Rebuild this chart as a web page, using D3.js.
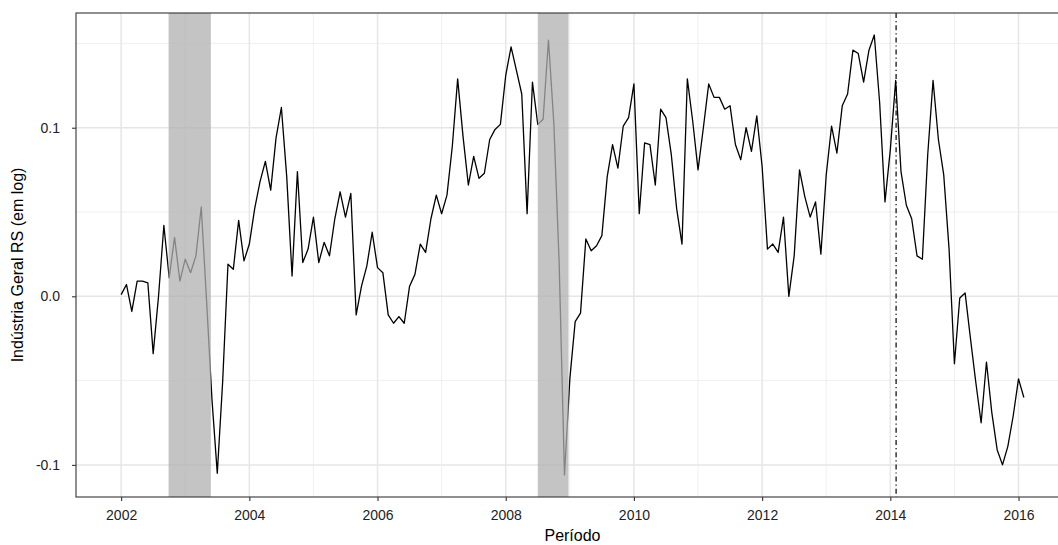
<!DOCTYPE html>
<html>
<head>
<meta charset="utf-8">
<script src="https://cdn.jsdelivr.net/npm/d3@7/dist/d3.min.js"></script>
<style>
  html, body { margin: 0; padding: 0; background: #fff; }
  svg { display: block; font-family: "Liberation Sans", Arial, sans-serif; }
</style>
</head>
<body>
<svg id="chart" width="1058" height="545"></svg>
<script>
// ---- Data (monthly, log index, starting Jan 2002) ----
const startYear = 2002;
const v2002 = [0.001, 0.007, -0.009, 0.009, 0.009, 0.008, -0.034, 0.000, 0.042, 0.011, 0.035, 0.009];
const v2003 = [0.022, 0.014, 0.024, 0.053, -0.003, -0.061, -0.105, -0.051, 0.019, 0.016, 0.045, 0.021];
const v2004 = [0.031, 0.052, 0.068, 0.080, 0.063, 0.094, 0.112, 0.071, 0.012, 0.074, 0.020, 0.028];
const v2005 = [0.047, 0.020, 0.032, 0.024, 0.046, 0.062, 0.047, 0.061, -0.011, 0.006, 0.018, 0.038];
const v2006 = [0.017, 0.014, -0.011, -0.016, -0.012, -0.016, 0.006, 0.013, 0.031, 0.026, 0.046, 0.060];
const v2007 = [0.049, 0.060, 0.089, 0.129, 0.095, 0.066, 0.083, 0.070, 0.073, 0.093, 0.099, 0.102];
const v2008 = [0.131, 0.148, 0.134, 0.120, 0.049, 0.127, 0.102, 0.105, 0.152, 0.103, 0.020, -0.106];
const v2009 = [-0.049, -0.015, -0.010, 0.034, 0.027, 0.030, 0.036, 0.071, 0.090, 0.076, 0.101, 0.106];
const v2010 = [0.126, 0.049, 0.091, 0.090, 0.066, 0.111, 0.106, 0.084, 0.052, 0.031, 0.129, 0.104];
const v2011 = [0.075, 0.100, 0.126, 0.118, 0.118, 0.111, 0.113, 0.090, 0.081, 0.100, 0.086, 0.107];
const v2012 = [0.077, 0.028, 0.031, 0.026, 0.047, 0.000, 0.024, 0.075, 0.059, 0.047, 0.056, 0.025];
const v2013 = [0.072, 0.101, 0.085, 0.113, 0.120, 0.146, 0.144, 0.127, 0.146, 0.155, 0.115, 0.056];
const v2014 = [0.087, 0.128, 0.074, 0.054, 0.046, 0.024, 0.022, 0.084, 0.128, 0.093, 0.072, 0.028];
const v2015 = [-0.040, -0.001, 0.002, -0.025, -0.051, -0.075, -0.039, -0.069, -0.091, -0.100, -0.089, -0.071];
const v2016 = [-0.049, -0.060];

// shaded recession periods (decimal years) and the vertical marker
const recessionStart = [2002.74, 2008.50];
const recessionEnd   = [2003.40, 2008.98];
const markerDate = 2014.09;

const xTicks = [2002, 2004, 2006, 2008, 2010, 2012, 2014, 2016];
const xMinorTicks = [2003, 2005, 2007, 2009, 2011, 2013, 2015];
const yTicks = [-0.1, 0.0, 0.1];
const yTickLabels = ["-0.1", "0.0", "0.1"];
const yMinorTicks = [-0.05, 0.05, 0.15];

const xTitle = "Período";
const yTitle = "Indústria Geral RS (em log)";

// ---- build series ----
const yearly = [v2002, v2003, v2004, v2005, v2006, v2007, v2008, v2009, v2010, v2011, v2012, v2013, v2014, v2015, v2016];
const series = [];
yearly.forEach((arr, yi) => arr.forEach((v, m) => series.push({ t: startYear + yi + m / 12, v })));

// ---- layout ----
const svg = d3.select("#chart");
const L = 76, R = 1069, T = 13, B = 497;

const xExt = d3.extent(series, d => d.t);
const xPad = (xExt[1] - xExt[0]) * 0.05;
const yExt = d3.extent(series, d => d.v);
const yPad = (yExt[1] - yExt[0]) * 0.05;

const x = d3.scaleLinear().domain([xExt[0] - xPad, xExt[1] + xPad]).range([L, R]);
const y = d3.scaleLinear().domain([yExt[0] - yPad, yExt[1] + yPad]).range([B, T]);

// panel background
svg.append("rect").attr("x", L).attr("y", T).attr("width", R - L).attr("height", B - T).attr("fill", "#fff");

const grid = svg.append("g");
// minor grid
grid.selectAll(".xmin").data(xMinorTicks).join("line")
  .attr("x1", d => x(d)).attr("x2", d => x(d)).attr("y1", T).attr("y2", B)
  .attr("stroke", "#ebebeb").attr("stroke-width", 0.8);
grid.selectAll(".ymin").data(yMinorTicks).join("line")
  .attr("x1", L).attr("x2", R).attr("y1", d => y(d)).attr("y2", d => y(d))
  .attr("stroke", "#ebebeb").attr("stroke-width", 0.8);
// major grid
grid.selectAll(".xmaj").data(xTicks).join("line")
  .attr("x1", d => x(d)).attr("x2", d => x(d)).attr("y1", T).attr("y2", B)
  .attr("stroke", "#e6e6e6").attr("stroke-width", 1.5);
grid.selectAll(".ymaj").data(yTicks).join("line")
  .attr("x1", L).attr("x2", R).attr("y1", d => y(d)).attr("y2", d => y(d))
  .attr("stroke", "#e6e6e6").attr("stroke-width", 1.5);

// series line
const line = d3.line().x(d => x(d.t)).y(d => y(d.v));
svg.append("path").datum(series)
  .attr("d", line).attr("fill", "none")
  .attr("stroke", "#000").attr("stroke-width", 1.3).attr("stroke-linejoin", "round");

// recession shading (drawn over the line, semi-transparent)
svg.selectAll(".rec").data(recessionStart).join("rect")
  .attr("x", (d) => x(d))
  .attr("width", (d, i) => x(recessionEnd[i]) - x(d))
  .attr("y", T).attr("height", B - T)
  .attr("fill", "#b0b0b0").attr("fill-opacity", 0.75);

// vertical dot-dash marker
svg.append("line")
  .attr("x1", x(markerDate)).attr("x2", x(markerDate))
  .attr("y1", T).attr("y2", B)
  .attr("stroke", "#000").attr("stroke-width", 1.2)
  .attr("stroke-dasharray", "5,3,1.2,3");

// panel border
svg.append("rect").attr("x", L).attr("y", T).attr("width", R - L).attr("height", B - T)
  .attr("fill", "none").attr("stroke", "#333").attr("stroke-width", 1.1);

// axes
const xAxis = svg.append("g").attr("transform", `translate(0,${B})`)
  .call(d3.axisBottom(x).tickValues(xTicks).tickFormat(d3.format("d")).tickSize(4).tickPadding(9));
const yAxis = svg.append("g").attr("transform", `translate(${L},0)`)
  .call(d3.axisLeft(y).tickValues(yTicks).tickFormat((d, i) => yTickLabels[i]).tickSize(4).tickPadding(12));
[xAxis, yAxis].forEach(a => {
  a.select(".domain").remove();
  a.selectAll(".tick line").attr("stroke", "#333").attr("stroke-width", 1.1);
  a.selectAll(".tick text").attr("fill", "#222").style("font-size", "14px")
    .style("font-family", "'Liberation Sans', Arial, sans-serif");
});

// titles
svg.append("text").attr("x", (L + R) / 2).attr("y", 541)
  .attr("text-anchor", "middle").attr("fill", "#000").style("font-size", "16px").text(xTitle);
svg.append("text").attr("transform", `translate(23,${(T + B) / 2 + 10}) rotate(-90)`)
  .attr("text-anchor", "middle").attr("fill", "#000").style("font-size", "16px").text(yTitle);
</script>
</body>
</html>
